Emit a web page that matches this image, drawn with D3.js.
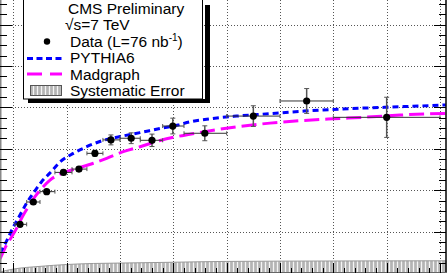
<!DOCTYPE html>
<html>
<head>
  <meta charset="utf-8">
  <title>CMS ratio plot</title>
  <style>
    body { margin: 0; background: #fff; }
    svg { display: block; font-family: "Liberation Sans", Arial, sans-serif; }
  </style>
</head>
<body>
<svg width="447" height="273"></svg>
<script src="https://d3js.org/d3.v7.min.js"></script>
<script>
// data
var dataX   = [1.25, 3.75, 6.25, 9.4, 12.3, 15.3, 18.3, 22.1, 26, 29.9, 35.9, 45, 55, 70];
var dataXLo = [0.3, 2.5, 5, 7.8, 11, 13.8, 16.8, 20, 23.8, 28, 32, 40, 50, 60];
var dataXHi = [2.5, 5, 7.8, 11, 13.8, 16.8, 20, 23.8, 28, 32, 40, 50, 60, 80];
var dataY   = [0.235, 0.343, 0.393, 0.486, 0.502, 0.578, 0.643, 0.651, 0.641, 0.710, 0.675, 0.758, 0.831, 0.752];
var dataErr = [0.01, 0.01, 0.01, 0.011, 0.012, 0.014, 0.024, 0.026, 0.030, 0.038, 0.036, 0.050, 0.060, 0.097];

var pythiaX = [-2.5, -1.25, 0, 1.25, 2.5, 3.75, 5.3, 6.9, 8.75, 11.25, 13.75, 16.9, 20, 23.75, 27.5, 30.9, 33.1, 36.9, 41.9, 48.1, 54.4, 63.1, 72.5, 81.1];
var pythiaY = [0.097, 0.155, 0.222, 0.280, 0.338, 0.386, 0.441, 0.484, 0.536, 0.578, 0.610, 0.641, 0.659, 0.678, 0.698, 0.715, 0.730, 0.745, 0.758, 0.770, 0.782, 0.794, 0.803, 0.812];

var madX = [-2.5, -1.56, -0.31, 0.63, 1.57, 2.81, 4.06, 5.32, 6.88, 8.75, 11.25, 15, 17.5, 20.6, 23.75, 27.5, 30.9, 33.1, 37.5, 41.9, 48.1, 54.4, 60, 66.3, 72.5, 81.1];
var madY = [0.068, 0.121, 0.175, 0.217, 0.266, 0.320, 0.369, 0.409, 0.449, 0.478, 0.500, 0.530, 0.554, 0.586, 0.610, 0.640, 0.660, 0.670, 0.690, 0.706, 0.724, 0.737, 0.745, 0.753, 0.763, 0.771];

var sysX   = [-2.5, 0, 2.5, 5, 7.5, 10, 15, 20, 30, 40, 60, 81.1];
var sysTop = [0.005, 0.019, 0.027, 0.032, 0.037, 0.041, 0.046, 0.048, 0.052, 0.056, 0.058, 0.059];

var legendLabels = ["CMS Preliminary", "√s=7 TeV", "Data (L=76 nb", "PYTHIA6", "Madgraph", "Systematic Error"];

var width = 447, height = 273;
var svg = d3.select("svg");

var x = d3.scaleLinear().domain([-2.5, 81.125]).range([0, 446]);
var y = d3.scaleLinear().domain([0, 1.3188]).range([273, 0]);

// hatch pattern for the systematic band
var defs = svg.append("defs");
var pat = defs.append("pattern").attr("id", "hatch").attr("patternUnits", "userSpaceOnUse")
  .attr("width", 4).attr("height", 6);
pat.append("rect").attr("width", 4).attr("height", 6).attr("fill", "#b4b4b4");
pat.append("line").attr("x1", 1.5).attr("x2", 1.5).attr("y1", 0).attr("y2", 6)
  .attr("stroke", "#f4f4f4").attr("stroke-width", 1.3);

// grid
var xMajor = d3.range(0, 81, 10);
var yMajor = [0.2, 0.4, 0.6, 0.8, 1.0, 1.2];
svg.append("g").selectAll("line").data(xMajor).enter().append("line")
  .attr("x1", function(d) { return Math.round(x(d)) + 0.5; })
  .attr("x2", function(d) { return Math.round(x(d)) + 0.5; })
  .attr("y1", 0).attr("y2", height)
  .attr("stroke", "#555").attr("stroke-dasharray", "1,2");
svg.append("g").selectAll("line").data(yMajor).enter().append("line")
  .attr("y1", function(d) { return Math.round(y(d)) + 0.5; })
  .attr("y2", function(d) { return Math.round(y(d)) + 0.5; })
  .attr("x1", 0).attr("x2", 446)
  .attr("stroke", "#555").attr("stroke-dasharray", "1,2");

// systematic band
var band = d3.area()
  .x(function(d, i) { return x(sysX[i]); })
  .y0(y(0) + 2)
  .y1(function(d, i) { return y(sysTop[i]); })
  .curve(d3.curveMonotoneX);
svg.append("path").datum(sysTop).attr("d", band).attr("fill", "url(#hatch)")
  .attr("stroke", "#999").attr("stroke-width", 1);

// MC curves
function curveLine(xs) {
  return d3.line()
    .x(function(d, i) { return x(xs[i]); })
    .y(function(d) { return y(d); })
    .curve(d3.curveMonotoneX);
}
svg.append("path").datum(madY).attr("d", curveLine(madX))
  .attr("fill", "none").attr("stroke", "#ff00ff").attr("stroke-width", 3)
  .attr("stroke-dasharray", "15,6");
svg.append("path").datum(pythiaY).attr("d", curveLine(pythiaX))
  .attr("fill", "none").attr("stroke", "#0000ff").attr("stroke-width", 3)
  .attr("stroke-dasharray", "6,4");

// data points with errors
var pts = svg.append("g");
dataX.forEach(function(xv, i) {
  var cx = x(xv), cy = y(dataY[i]);
  var x0 = x(dataXLo[i]), x1 = x(dataXHi[i]);
  var yt = y(dataY[i] + dataErr[i]), yb = y(dataY[i] - dataErr[i]);
  pts.append("line").attr("x1", x0).attr("x2", x1).attr("y1", cy).attr("y2", cy)
    .attr("stroke", "#333").attr("stroke-width", 1);
  [x0, x1].forEach(function(e) {
    pts.append("line").attr("x1", e).attr("x2", e).attr("y1", cy - 2).attr("y2", cy + 2)
      .attr("stroke", "#555").attr("stroke-width", 1);
  });
  pts.append("line").attr("x1", cx).attr("x2", cx).attr("y1", yt).attr("y2", yb)
    .attr("stroke", "#555").attr("stroke-width", 1.5);
  [yt, yb].forEach(function(e) {
    pts.append("line").attr("x1", cx - 2.5).attr("x2", cx + 2.5).attr("y1", e).attr("y2", e)
      .attr("stroke", "#555").attr("stroke-width", 1);
  });
  pts.append("circle").attr("cx", cx).attr("cy", cy).attr("r", 3.6).attr("fill", "#000");
});

// frame and ticks
var frame = svg.append("g").attr("stroke", "#000");
frame.append("line").attr("x1", 0.5).attr("x2", 0.5).attr("y1", 0).attr("y2", height).attr("stroke", "#888").attr("stroke-width", 2);
frame.append("line").attr("x1", 446).attr("x2", 446).attr("y1", 0).attr("y2", height).attr("stroke-width", 1.5);
frame.append("line").attr("x1", 0).attr("x2", 447).attr("y1", 272.5).attr("y2", 272.5).attr("stroke", "#666");

var yMinor = d3.range(0, 1.32, 0.05);
yMinor.forEach(function(v) {
  var py = Math.round(y(v)) + 0.5;
  var major = Math.abs(v * 5 - Math.round(v * 5)) < 1e-6;
  var len = major ? 12 : 7;
  frame.append("line").attr("x1", 0).attr("x2", len).attr("y1", py).attr("y2", py);
  frame.append("line").attr("x1", 446 - len).attr("x2", 446).attr("y1", py).attr("y2", py);
});
var xMinor = d3.range(-2, 81, 2);
xMinor.forEach(function(v) {
  var px = Math.round(x(v)) + 0.5;
  var len = (v % 10 === 0) ? 10 : 5;
  frame.append("line").attr("x1", px).attr("x2", px).attr("y1", 273 - len).attr("y2", 273);
});

// legend
var lg = svg.append("g");
lg.append("rect").attr("x", 28).attr("y", 99).attr("width", 182).attr("height", 4).attr("fill", "#000");
lg.append("rect").attr("x", 205).attr("y", 5).attr("width", 5).attr("height", 98).attr("fill", "#000");
lg.append("rect").attr("x", 23.5).attr("y", -5).attr("width", 179).attr("height", 104)
  .attr("fill", "#fff").attr("stroke", "#000").attr("stroke-width", 1);

var baselines = [13.5, 30, 46.5, 63, 79.5, 96];
var textX = [68, 65, 70, 70, 70, 70];
legendLabels.forEach(function(t, i) {
  var tx = lg.append("text").attr("x", textX[i]).attr("y", baselines[i])
    .attr("font-size", "15.5px").attr("fill", "#000").text(t);
  if (i === 2) {
    tx.append("tspan").attr("dy", -6).attr("font-size", "10px").text("-1");
    tx.append("tspan").attr("dy", 6).text(")");
  }
});
lg.append("circle").attr("cx", 47).attr("cy", 41.5).attr("r", 3.2).attr("fill", "#000");
lg.append("line").attr("x1", 27).attr("x2", 62).attr("y1", 58.5).attr("y2", 58.5)
  .attr("stroke", "#0000ff").attr("stroke-width", 3).attr("stroke-dasharray", "6,3.5");
lg.append("line").attr("x1", 27).attr("x2", 62).attr("y1", 74).attr("y2", 74)
  .attr("stroke", "#ff00ff").attr("stroke-width", 3).attr("stroke-dasharray", "15,8");
lg.append("rect").attr("x", 30.5).attr("y", 85.5).attr("width", 31).attr("height", 10)
  .attr("fill", "url(#hatch)").attr("stroke", "#555").attr("stroke-width", 1);
</script>
</body>
</html>
